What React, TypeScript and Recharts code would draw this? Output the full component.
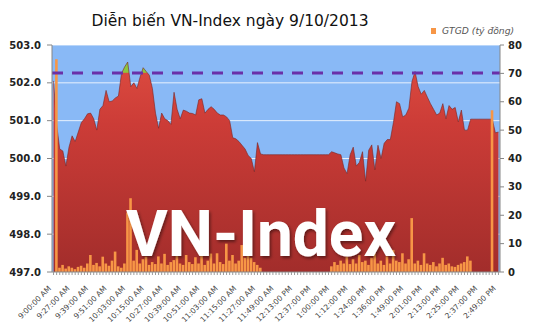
import React from 'react';
import { ComposedChart, Area, Bar, XAxis, YAxis, CartesianGrid, ReferenceLine } from 'recharts';

// tick labels shown every 6th point on the time axis
const timeLabels = [
  '9:00:00 AM', '9:27:00 AM', '9:39:00 AM', '9:51:00 AM', '10:03:00 AM', '10:15:00 AM',
  '10:27:00 AM', '10:39:00 AM', '10:51:00 AM', '11:03:00 AM', '11:15:00 AM', '11:27:00 AM',
  '11:49:00 AM', '12:13:00 PM', '12:37:00 PM', '1:00:00 PM', '1:12:00 PM', '1:24:00 PM',
  '1:36:00 PM', '1:49:00 PM', '2:01:00 PM', '2:13:00 PM', '2:25:00 PM', '2:37:00 PM', '2:49:00 PM',
];

// VN-Index level (left axis)
const vnIndex = [
  502.05, 500.9, 500.25, 500.2, 499.8, 500.3, 500.6, 500.45, 500.7, 500.95,
  501.05, 501.18, 501.2, 501.05, 500.75, 501.3, 501.4, 501.8, 501.5, 501.52,
  501.6, 501.65, 502.25, 502.42, 502.55, 501.9, 502.0, 501.85, 502.15, 502.4,
  502.3, 502.2, 501.85, 501.2, 500.8, 501.2, 501.05, 501.0, 500.9, 501.75,
  501.3, 501.05, 501.28, 501.25, 501.2, 501.19, 501.15, 501.55, 501.58, 501.2,
  501.3, 501.37, 501.3, 501.2, 501.15, 501.15, 501.1, 501.0, 500.55, 500.52,
  500.45, 500.35, 500.25, 500.08, 500.0, 499.65, 500.42, 500.12, 500.1, 500.1,
  500.1, 500.1, 500.1, 500.1, 500.1, 500.1, 500.1, 500.1, 500.1, 500.1,
  500.1, 500.1, 500.1, 500.1, 500.1, 500.1, 500.1, 500.1, 500.1, 500.1,
  500.18, 500.15, 500.12, 500.1, 499.75, 499.6, 500.1, 500.3, 499.8, 499.9,
  500.18, 499.4, 500.22, 500.36, 499.7, 500.35, 500.0, 500.4, 500.5, 500.5,
  500.95, 501.5, 501.45, 501.1, 501.15, 501.33, 502.03, 502.3, 501.9, 501.7,
  501.8, 501.62, 501.45, 501.3, 501.15, 501.2, 501.45, 501.05, 501.4, 501.3,
  501.35, 500.97, 501.28, 500.75, 500.75, 501.04, 501.04, 501.04, 501.04, 501.04,
  501.04, 501.04, 501.04, 500.68, 500.7,
];

// GTGD, trading value in billion VND (right axis)
const gtgd = [
  0, 75, 1.5, 2.5, 1.2, 2, 1.5, 1, 1.8, 2.2,
  1.5, 3, 6, 2.5, 3.2, 2, 5.4, 3, 2.2, 4,
  7.2, 2, 1.5, 3, 21, 26, 4, 7.8, 3, 4.5,
  5.4, 2.5, 3.5, 2.8, 5.5, 3, 6.4, 2.5, 3.5, 4.2,
  6, 3, 2.5, 6, 3.5, 2.8, 5.2, 3, 7, 2.5,
  4, 6.5, 3, 6.6, 3.5, 2.8, 10, 4, 6, 3,
  4, 9.5, 5, 7.8, 5, 3.5, 2.5, 1.5, 0, 0,
  0, 0, 0, 0, 0, 0, 0, 0, 0, 0,
  0, 0, 0, 0, 0, 0, 0, 0, 0, 0,
  2, 3.5, 2.5, 4, 3, 5.4, 2.8, 4.5, 3, 6,
  3.5, 4, 2.5, 5, 6.6, 3, 4, 2.5, 5.5, 3,
  7.8, 4, 3.5, 6.6, 3, 4.5, 19, 3, 4, 2.5,
  6.6, 3, 2.5, 3.5, 2, 3, 5, 2.5, 3, 2,
  1.8, 2.5, 3, 3.5, 5.5, 4, 0, 0, 0, 0,
  0, 0, 57, 0, 0,
];

const refLevel = 502.26;
const leftTicks = [497, 498, 499, 500, 501, 502, 503];
const rightTicks = [0, 10, 20, 30, 40, 50, 60, 70, 80];
const LABEL_STEP = 6;

const data = vnIndex.map((v, i) => ({ i, v, g: gtgd[i] }));

const FONT = "Tahoma, 'DejaVu Sans', sans-serif";

const TimeTick = ({ x, y, payload }: any) => {
  const idx = payload.value;
  if (idx % LABEL_STEP !== 0) return null;
  const ax = x - 2;
  const ay = y + 12;
  return (
    <text
      x={ax}
      y={ay}
      textAnchor="end"
      fontSize={7.5}
      fontFamily={FONT}
      fill="#444"
      transform={`rotate(-45 ${ax} ${ay})`}
    >
      {timeLabels[idx / LABEL_STEP]}
    </text>
  );
};

export default function App() {
  return (
    <div style={{ position: 'absolute', left: 0, top: 0, width: 535, height: 335, background: '#fff' }}>
      <ComposedChart
        width={535}
        height={335}
        data={data}
        margin={{ top: 45, right: 0, bottom: 0, left: 0 }}
        barCategoryGap={0}
        style={{ fontFamily: FONT }}
      >
        <defs>
          <linearGradient id="redFill" gradientUnits="userSpaceOnUse" x1="0" y1="45" x2="0" y2="272">
            <stop offset="0" stopColor="#8cc63f" />
            <stop offset="0.12" stopColor="#8cc63f" />
            <stop offset="0.125" stopColor="#d9483e" />
            <stop offset="0.35" stopColor="#cc3c37" />
            <stop offset="1" stopColor="#a22d2b" />
          </linearGradient>
        </defs>
        <CartesianGrid yAxisId="left" vertical={false} stroke="#ffffff" strokeOpacity={0.8} fill="#89b9f6" />
        <XAxis
          dataKey="i"
          interval={0}
          height={63}
          tickSize={3}
          tick={<TimeTick />}
          tickLine={{ stroke: '#9a9a9a' }}
          axisLine={{ stroke: '#868686' }}
        />
        <YAxis
          yAxisId="left"
          width={52}
          domain={[497, 503]}
          ticks={leftTicks}
          allowDataOverflow
          tickFormatter={(v: number) => v.toFixed(1)}
          tickSize={5}
          tickMargin={6}
          tick={{ fontSize: 10, fontWeight: 'bold', fill: '#222' }}
          tickLine={{ stroke: '#868686' }}
          axisLine={{ stroke: '#868686' }}
        />
        <YAxis
          yAxisId="right"
          orientation="right"
          width={35}
          domain={[0, 80]}
          ticks={rightTicks}
          tickSize={4}
          tickMargin={4}
          tick={{ fontSize: 10, fontWeight: 'bold', fill: '#222', textAnchor: 'start' }}
          tickLine={{ stroke: '#868686' }}
          axisLine={{ stroke: '#868686' }}
        />
        <Area
          yAxisId="left"
          type="linear"
          dataKey="v"
          stroke="#7a2420"
          strokeWidth={0.6}
          fill="url(#redFill)"
          fillOpacity={1}
          legendType="none"
          isAnimationActive={false}
        />
        <Bar
          yAxisId="right"
          dataKey="g"
          name="GTGD (tỷ đồng)"
          fill="#f79646"
          barSize={2.6}
          isAnimationActive={false}
        />
        <ReferenceLine
          yAxisId="left"
          y={refLevel}
          stroke="#6a30a8"
          strokeWidth={3}
          strokeDasharray="11 9"
        />
      </ComposedChart>

      <svg
        width={535}
        height={335}
        style={{ position: 'absolute', left: 0, top: 0, pointerEvents: 'none' }}
      >
        <defs>
          <filter id="wmShadow" x="-10%" y="-10%" width="120%" height="130%">
            <feDropShadow dx="1.5" dy="2" stdDeviation="1.5" floodColor="#000" floodOpacity="0.45" />
          </filter>
        </defs>
        <text x={230} y={26} textAnchor="middle" fontSize={15.5} fontFamily={FONT} fill="#111">
          Diễn biến VN-Index ngày 9/10/2013
        </text>
        <rect x={431} y={28} width={5} height={6} fill="#f79646" />
        <text x={442} y={34} fontSize={9.2} fontStyle="italic" fontFamily={FONT} fill="#555">
          GTGD (tỷ đồng)
        </text>
        <text
          x={261}
          y={256}
          textAnchor="middle"
          fontSize={64}
          fontWeight="bold"
          fontFamily="Roboto, 'DejaVu Sans', sans-serif"
          fill="#ffffff"
          filter="url(#wmShadow)"
        >
          VN-Index
        </text>
      </svg>
    </div>
  );
}
